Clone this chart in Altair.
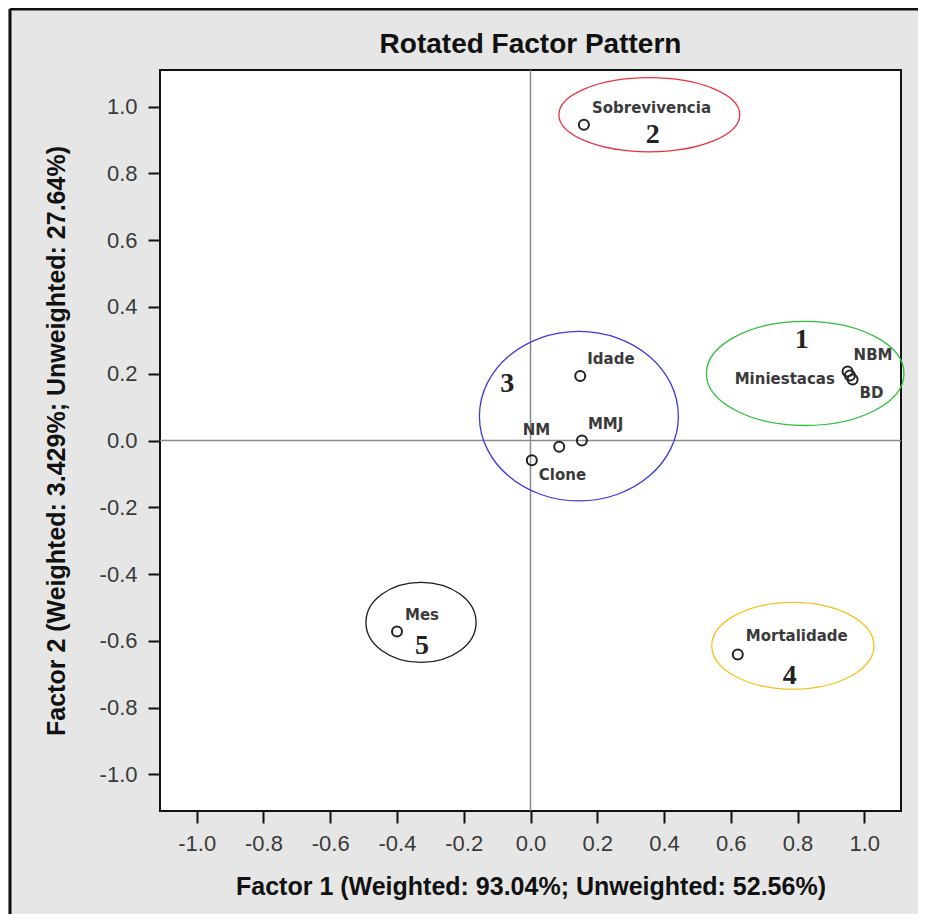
import altair as alt
import pandas as pd

# ---- data ----
var_names = ["Sobrevivencia", "Idade", "NBM", "Miniestacas", "BD",
             "MMJ", "NM", "Clone", "Mes", "Mortalidade"]
factor1 = [0.160, 0.149, 0.950, 0.957, 0.965, 0.154, 0.086, 0.004, -0.400, 0.621]
factor2 = [0.946, 0.193, 0.207, 0.195, 0.183, 0.000, -0.019, -0.059, -0.572, -0.641]

# label placement (style)
label_dx = [8, 7, 6, -15, 7, 6, -9, 7, 8, 8]
label_dy = [-17, -17, -16, 4, 14, -17, -17, 15, -16, -18]
label_align = ["left", "left", "left", "right", "left", "left", "right", "left", "left", "left"]

# cluster annotations (ellipses)
group_ids = ["1", "2", "3", "4", "5"]
group_cx = [0.823, 0.356, 0.145, 0.786, -0.328]
group_cy = [0.201, 0.976, 0.073, -0.615, -0.545]
group_rx = [0.296, 0.271, 0.298, 0.243, 0.165]
group_ry = [0.156, 0.111, 0.254, 0.130, 0.120]
group_label_x = [0.813, 0.366, -0.070, 0.777, -0.325]
group_label_y = [0.302, 0.916, 0.168, -0.707, -0.617]
group_colors = ["#2fbf3a", "#e8333f", "#3a3adf", "#f6c21c", "#1a1a1a"]

tick_values = [-1.0, -0.8, -0.6, -0.4, -0.2, 0.0, 0.2, 0.4, 0.6, 0.8, 1.0]
chart_title = "Rotated Factor Pattern"

PLOT = 741
DOM = [-1.11, 1.11]
PX = PLOT / (DOM[1] - DOM[0])

label_expr = "datum.value < 0 ? '-' + format(-datum.value, '.1f') : format(datum.value, '.1f')"
xscale = alt.Scale(domain=DOM, nice=False, zero=False)
yscale = alt.Scale(domain=DOM, nice=False, zero=False)
x_axis = alt.Axis(values=tick_values, labelExpr=label_expr,
                  title="Factor 1 (Weighted: 93.04%; Unweighted: 52.56%)")
y_axis = alt.Axis(values=tick_values, labelExpr=label_expr,
                  title="Factor 2 (Weighted: 3.429%; Unweighted: 27.64%)")


def X(field):
    return alt.X(f"{field}:Q", scale=xscale, axis=x_axis)


def Y(field):
    return alt.Y(f"{field}:Q", scale=yscale, axis=y_axis)


pts = pd.DataFrame({"name": var_names, "f1": factor1, "f2": factor2})

paths = []
sizes = []
for rx, ry in zip(group_rx, group_ry):
    k = ry / rx
    paths.append(f"M-1,0A1,{k:.4f},0,1,1,1,0A1,{k:.4f},0,1,1,-1,0Z")
    sizes.append((2 * rx * PX) ** 2)

groups = pd.DataFrame({
    "id": group_ids, "cx": group_cx, "cy": group_cy,
    "lx": group_label_x, "ly": group_label_y,
    "col": group_colors, "path": paths, "sz": sizes,
})

zero = pd.DataFrame({"v": [0.0]})

vrule = alt.Chart(zero).mark_rule(color="#8a8a8a", strokeWidth=1.5).encode(x=X("v"))
hrule = alt.Chart(zero).mark_rule(color="#8a8a8a", strokeWidth=1.5).encode(y=Y("v"))

ellipses = alt.Chart(groups).mark_point(filled=False, opacity=1, strokeWidth=1.3).encode(
    x=X("cx"), y=Y("cy"),
    shape=alt.Shape("path:N", scale=None),
    size=alt.Size("sz:Q", scale=None),
    color=alt.Color("col:N", scale=None),
)

group_text = alt.Chart(groups).mark_text(
    font="Liberation Serif", fontWeight="bold", fontSize=28, color="#222",
    align="center", baseline="middle",
).encode(x=X("lx"), y=Y("ly"), text="id:N")

points = alt.Chart(pts).mark_point(
    shape="circle", filled=False, size=100, strokeWidth=2, color="#222", opacity=1
).encode(x=X("f1"), y=Y("f2"))

label_layers = []
for name, dx, dy, al in zip(var_names, label_dx, label_dy, label_align):
    label_layers.append(
        alt.Chart(pts).transform_filter(alt.datum.name == name).mark_text(
            font="DejaVu Sans", fontWeight="bold", fontSize=15, color="#3a3a3a",
            align=al, baseline="middle", dx=dx, dy=dy,
        ).encode(x=X("f1"), y=Y("f2"), text="name:N")
    )

# chart title as a text mark above the plot
title_mark = alt.Chart(zero).mark_text(
    text=chart_title, font="Liberation Sans", fontSize=28, fontWeight="bold",
    color="#111", align="center", baseline="alphabetic",
).encode(x=alt.value(PLOT / 2), y=alt.value(-17))

# outer frame lines of the original screenshot
frame_top = alt.Chart(zero).mark_rule(color="#111", strokeWidth=3).encode(
    x=alt.value(-150), x2=alt.value(770), y=alt.value(-61))
frame_left = alt.Chart(zero).mark_rule(color="#111", strokeWidth=3).encode(
    x=alt.value(-150), y=alt.value(-61), y2=alt.value(860))

chart = alt.layer(
    vrule, hrule, ellipses, group_text, points, *label_layers,
    title_mark, frame_top, frame_left
).properties(
    width=PLOT, height=PLOT,
    autosize=alt.AutoSizeParams(type="none"),
    padding={"left": 152, "top": 62, "right": 17, "bottom": 103},
    background="#e6e6e6",
).configure_view(
    stroke="#111", strokeWidth=2, fill="white"
).configure_axis(
    domain=False, grid=False,
    ticks=True, tickSize=12, tickWidth=2, tickColor="#111",
    labelFont="Liberation Sans", labelFontSize=22, labelColor="#3a3a3a",
    labelPadding=10,
    titleFont="Liberation Sans", titleFontSize=25, titleFontWeight="bold",
    titleColor="#111",
).configure_axisX(
    titlePadding=20, labelFlush=False,
).configure_axisY(
    titlePadding=30, labelFlush=False, labelPadding=11,
)

chart.save("out.html", embed_options={"renderer": "svg", "actions": False})
